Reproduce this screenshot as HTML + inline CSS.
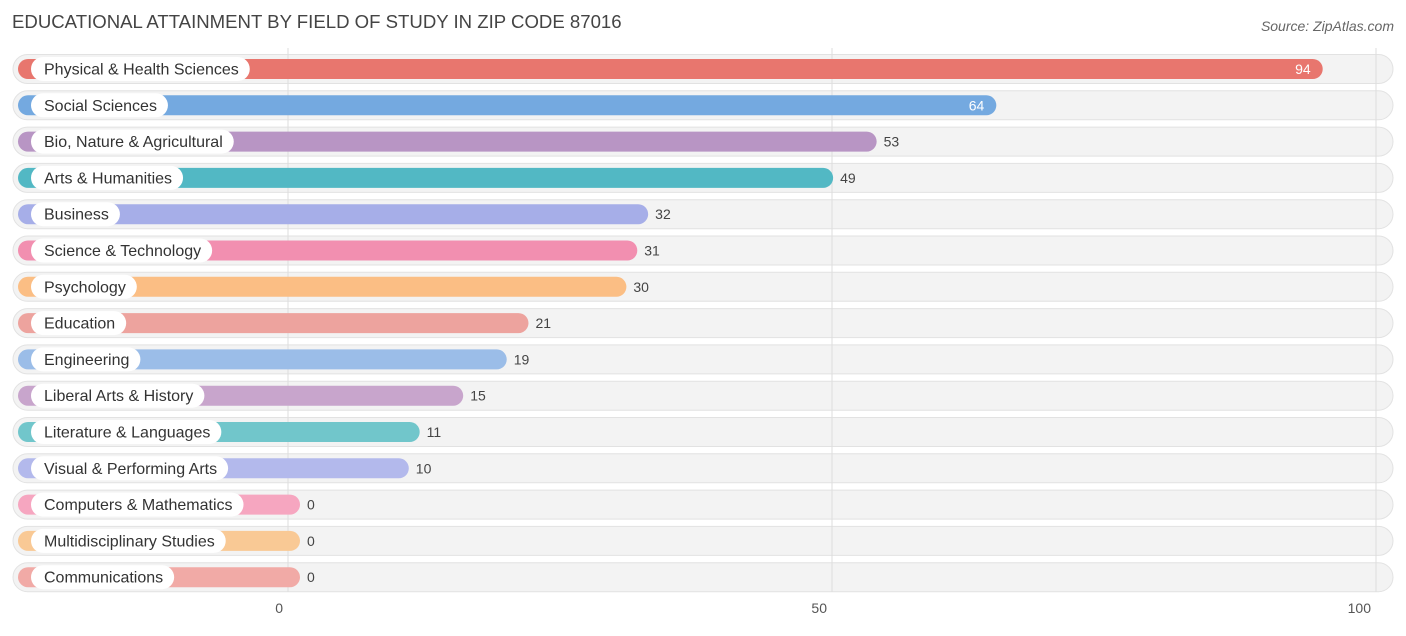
<!DOCTYPE html>
<html><head><meta charset="utf-8"><style>
body{margin:0;background:#fff;font-family:"Liberation Sans",sans-serif}
</style></head><body>
<svg width="1406" height="631" xmlns="http://www.w3.org/2000/svg">
<text x="12" y="28" font-size="18.6" fill="#444">EDUCATIONAL ATTAINMENT BY FIELD OF STUDY IN ZIP CODE 87016</text>
<text x="1394" y="31" font-size="14" fill="#666" font-style="italic" text-anchor="end">Source: ZipAtlas.com</text>
<g id="bgs"></g><g id="grid"></g><g id="rows"></g><g id="ticks"></g>
</svg>
<script>
const categories=["Physical & Health Sciences","Social Sciences","Bio, Nature & Agricultural","Arts & Humanities","Business","Science & Technology","Psychology","Education","Engineering","Liberal Arts & History","Literature & Languages","Visual & Performing Arts","Computers & Mathematics","Multidisciplinary Studies","Communications"];
const values=[94,64,53,49,32,31,30,21,19,15,11,10,0,0,0];
const colors=["#e8766e","#74a9e0","#b895c4","#52b8c4","#a6aee8","#f28fb0","#fbbe84","#eda39e","#9bbde8","#c8a5cc","#71c6cb","#b3b9ec","#f6a6c0","#f9c995","#f1aaa6"];
const tickValues=[0,50,100];
const NS="http://www.w3.org/2000/svg";
const x0=288,pxPer=10.88;
function xs(v){return x0+v*pxPer;}
function yc(i){return 69+i*36.3;}
function mk(t,a,p){const e=document.createElementNS(NS,t);for(const k in a)e.setAttribute(k,a[k]);p.appendChild(e);return e;}
const bgs=document.getElementById('bgs'),grid=document.getElementById('grid'),rows=document.getElementById('rows'),ticks=document.getElementById('ticks');
tickValues.forEach(t=>{
 const l=mk('line',{x1:xs(t),x2:xs(t),y1:48,y2:592,stroke:'#ddd','stroke-width':1},grid);
 
 
 const tx=mk('text',{x:xs(t)-5,y:613,'font-size':14,fill:'#555','text-anchor':'end'},ticks);
 tx.textContent=t;
 
 
});
categories.forEach((c,i)=>{
 const y=yc(i);
 const bg=mk('rect',{x:13,y:y-14.5,width:1380,height:29,rx:14.5,fill:'#f3f3f3',stroke:'#e2e2e2'},bgs);
 
 
 const g=mk('g',{},rows);
 
 
 const end=xs(values[i])+12;
 const b=mk('rect',{x:18,y:y-10,width:end-18,height:20,rx:10,fill:colors[i]},g);
 
 
 const lp=mk('rect',{x:31,y:y-12,width:100,height:24,rx:12,fill:'#fff'},g);
 
 
 const lt=mk('text',{x:44,y:y+5.5,'font-size':16,fill:'#333'},g);
 lt.textContent=c;
 
 
 lp.setAttribute('width',lt.getComputedTextLength()+24);
 const inside=values[i]>=60;
 const vt=mk('text',{x:inside?end-12:end+7,y:y+5,'font-size':14,fill:inside?'#fff':'#444','text-anchor':inside?'end':'start'},g);
 vt.textContent=values[i];
 
 
});
</script>
</body></html>
